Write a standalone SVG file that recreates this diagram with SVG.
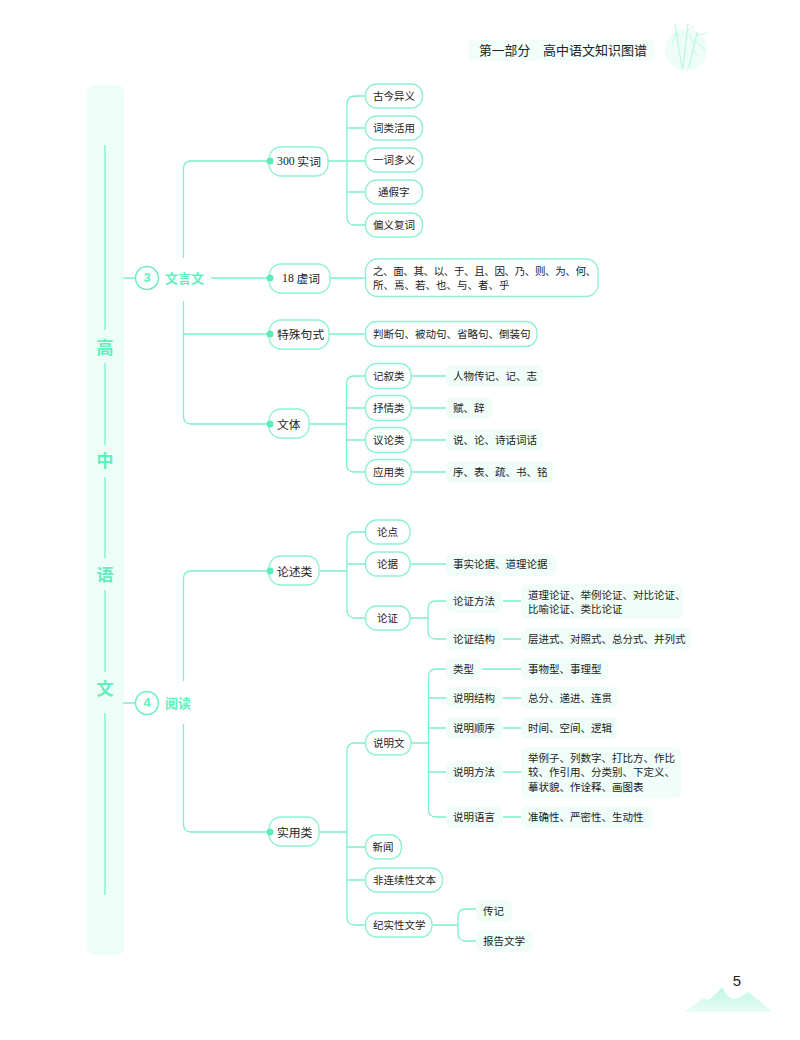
<svg xmlns="http://www.w3.org/2000/svg" width="800" height="1040" viewBox="0 0 800 1040">
<style>
text{font-family:"Noto Sans CJK SC","Noto Sans",sans-serif;fill:#222;dominant-baseline:central;transform:translateY(-.8px)}
.t{font-size:10.5px}
.m{font-size:11.8px}
.n{font-family:"Liberation Serif","Noto Sans CJK SC",serif}
.g{fill:#62eebd;font-weight:700}
.l{fill:none;stroke:#7df0cb;stroke-width:1.3}
.b{fill:#fff;stroke:#8ef0d2;stroke-width:1.3}
.f{fill:#f0fdf9}
.d{fill:#5eecb9}
.c{fill:#fff;stroke:#6eeec3;stroke-width:1.5}
.s{fill:none;stroke:#bdf6e2;stroke-linecap:round}
</style>
<defs>
<linearGradient id="mt" x1="0" y1="0" x2="0" y2="1"><stop offset="0" stop-color="#bdf6e2"/><stop offset="1" stop-color="#eafcf6"/></linearGradient>
</defs>
<rect width="800" height="1040" fill="#fff"/>
<g id="band">
<rect x="87" y="85" width="37" height="870" rx="7" fill="#edfdf7"/>
<path class="l" d="M105 145V330M105 363V445M105 477V558M105 590V672M105 713V895"/>
<text x="105" y="347" text-anchor="middle" class="g" font-size="17">高</text>
<text x="105" y="460" text-anchor="middle" class="g" font-size="17">中</text>
<text x="105" y="574" text-anchor="middle" class="g" font-size="17">语</text>
<text x="105" y="688" text-anchor="middle" class="g" font-size="17">文</text>
</g>
<g id="header">
<rect x="468" y="40" width="187" height="21" rx="5" fill="#f3fdfa"/>
<text x="479" y="50.500" font-size="12.800">第一部分</text>
<text x="543" y="50.500" font-size="13">高中语文知识图谱</text>
<circle cx="686" cy="50" r="21" fill="#eefdf8"/>
<g class="s" stroke-width="1.300"><path d="M675 25L682 68M688 24L683 68M697 33L689 67"/><path stroke-width=".9" d="M676 32L672 44M676 33L681 37M688 30L693 27M689 34L694 44M696 36L707 33M695 40L705 50M692 50L699 56"/></g>
</g>
<g id="connectors">
<path class="l" d="M123 278H135M211 278H269M123 703H135M183.500 258V169Q183.500 161 191 161H269M183.500 301V416Q183.500 424 191 424H269M183.500 334H269"/>
<path class="l" d="M183.500 681V579Q183.500 571 191 571H269M183.500 724V824Q183.500 832 191 832H269"/>
<path class="l" d="M328 161H347M365 96H355Q347 96 347 104V217Q347 225 355 225H365M347 128H365M347 161H365M347 192H365"/>
<path class="l" d="M330 278H365M329 334H365"/>
<path class="l" d="M309 424H346.500M365 376H354Q346.500 376 346.500 384V464Q346.500 472 354 472H365M346.500 408H365M346.500 440H365M411 376H446M411 408H446M411 440H446M411 472H446"/>
<path class="l" d="M319 571H347M365 532H355Q347 532 347 540V610Q347 618 355 618H365M347 564H365M410 564H446M410 618H428M447 601H436Q428 601 428 609V631Q428 639 436 639H447M503 601H521M503 639H521"/>
<path class="l" d="M319 832H347M365 743H355Q347 743 347 751V917Q347 925 355 925H365M347 847H365M347 880H365"/>
<path class="l" d="M411 743H428.500M446 669H436Q428.500 669 428.500 677V809Q428.500 817 436 817H446M428.500 698H446M428.500 728H446M428.500 772H446M482 669H521M503 698H521M503 728H521M503 772H521M503 817H521"/>
<path class="l" d="M432 925H458M476 909H466Q458 909 458 917V933Q458 941 466 941H476"/>
</g>
<g id="n3"><circle class="c" cx="147" cy="278" r="11.500"/><text x="147" y="278.500" text-anchor="middle" class="g" font-size="13" style="font-family:'Liberation Sans',sans-serif">3</text><text x="165" y="278.500" class="g" font-size="13">文言文</text></g>
<g id="n4"><circle class="c" cx="147" cy="703" r="11.500"/><text x="147" y="703.500" text-anchor="middle" class="g" font-size="13" style="font-family:'Liberation Sans',sans-serif">4</text><text x="165" y="703.500" class="g" font-size="13">阅读</text></g>
<g id="n300"><rect class="b" x="269" y="147" width="59" height="29" rx="12"/><circle class="d" cx="270" cy="161" r="3.500"/><text class="m" x="277" y="161.500"><tspan class="n">300</tspan> 实词</text></g>
<g id="n18"><rect class="b" x="269" y="264" width="61" height="29" rx="12"/><circle class="d" cx="270" cy="278" r="3.500"/><text class="m" x="282" y="278.500"><tspan class="n">18</tspan> 虚词</text></g>
<g id="nts"><rect class="b" x="269" y="320" width="60" height="29" rx="12"/><circle class="d" cx="270" cy="334" r="3.500"/><text class="m" x="277" y="334.500">特殊句式</text></g>
<g id="nwt"><rect class="b" x="269" y="409" width="40" height="29" rx="12"/><circle class="d" cx="270" cy="424" r="3.500"/><text class="m" x="277" y="424.500">文体</text></g>
<g id="nls"><rect class="b" x="269" y="556" width="50" height="29" rx="12"/><circle class="d" cx="270" cy="571" r="3.500"/><text class="m" x="277" y="571.500">论述类</text></g>
<g id="nsy"><rect class="b" x="269" y="817" width="50" height="29" rx="12"/><circle class="d" cx="270" cy="832" r="3.500"/><text class="m" x="277" y="832.500">实用类</text></g>
<g id="a1"><rect class="b" x="365.500" y="84" width="57" height="24" rx="11"/><text class="t" x="373" y="96.500">古今异义</text></g>
<g id="a2"><rect class="b" x="365.500" y="116" width="57" height="24" rx="11"/><text class="t" x="373" y="128.500">词类活用</text></g>
<g id="a3"><rect class="b" x="365.500" y="148" width="57" height="24" rx="11"/><text class="t" x="373" y="160.500">一词多义</text></g>
<g id="a4"><rect class="b" x="365.500" y="180" width="57" height="24" rx="11"/><text class="t" x="378" y="192.500">通假字</text></g>
<g id="a5"><rect class="b" x="365.500" y="213" width="57" height="24" rx="11"/><text class="t" x="373" y="225.500">偏义复词</text></g>
<g id="b1"><rect class="b" x="365.500" y="259" width="232.500" height="37.500" rx="12"/><text class="t" x="373" y="271" letter-spacing="-.38">之、面、其、以、于、且、因、乃、则、为、何、</text><text class="t" x="373" y="285">所、焉、若、也、与、者、乎</text></g>
<g id="b2"><rect class="b" x="365.500" y="321.500" width="171.500" height="25" rx="11"/><text class="t" x="373" y="334">判断句、被动句、省略句、倒装句</text></g>
<g id="c1"><rect class="b" x="365.500" y="363.500" width="45.500" height="25" rx="11"/><text class="t" x="373" y="376.500">记叙类</text></g>
<g id="c2"><rect class="b" x="365.500" y="395.500" width="45.500" height="25" rx="11"/><text class="t" x="373" y="408.500">抒情类</text></g>
<g id="c3"><rect class="b" x="365.500" y="427.500" width="45.500" height="25" rx="11"/><text class="t" x="373" y="440.500">议论类</text></g>
<g id="c4"><rect class="b" x="365.500" y="459.500" width="45.500" height="25" rx="11"/><text class="t" x="373" y="472.500">应用类</text></g>
<g id="d1"><rect class="f" x="446" y="365" width="97" height="22" rx="6"/><text class="t" x="453" y="376.500">人物传记、记、志</text></g>
<g id="d2"><rect class="f" x="446" y="397" width="46" height="22" rx="6"/><text class="t" x="453" y="408.500">赋、辞</text></g>
<g id="d3"><rect class="f" x="446" y="429" width="97" height="22" rx="6"/><text class="t" x="453" y="440.500">说、论、诗话词话</text></g>
<g id="d4"><rect class="f" x="446" y="461" width="108" height="22" rx="6"/><text class="t" x="453" y="472.500">序、表、疏、书、铭</text></g>
<g id="e1"><rect class="b" x="365.500" y="520" width="44.500" height="24" rx="11"/><text class="t" x="377" y="532.500">论点</text></g>
<g id="e2"><rect class="b" x="365.500" y="552" width="44.500" height="24" rx="11"/><text class="t" x="377" y="564.500">论据</text></g>
<g id="e3"><rect class="b" x="365.500" y="606" width="44.500" height="24" rx="11"/><text class="t" x="377" y="618.500">论证</text></g>
<g id="e4"><rect class="f" x="446" y="554" width="110" height="22" rx="6"/><text class="t" x="453" y="564.500">事实论据、道理论据</text></g>
<g id="e5"><rect class="f" x="446" y="591" width="56" height="22" rx="6"/><text class="t" x="453" y="601.500">论证方法</text></g>
<g id="e6"><rect class="f" x="446" y="628" width="56" height="22" rx="6"/><text class="t" x="453" y="639.500">论证结构</text></g>
<g id="e7"><rect class="f" x="521" y="584" width="162" height="35" rx="6"/><text class="t" x="528" y="595">道理论证、举例论证、对比论证、</text><text class="t" x="528" y="609">比喻论证、类比论证</text></g>
<g id="e8"><rect class="f" x="521" y="628" width="170" height="22" rx="6"/><text class="t" x="528" y="639">层进式、对照式、总分式、并列式</text></g>
<g id="f1"><rect class="b" x="365.500" y="731" width="45.500" height="24" rx="11"/><text class="t" x="373" y="743.500">说明文</text></g>
<g id="f2"><rect class="f" x="446" y="658" width="35" height="22" rx="6"/><text class="t" x="453" y="669">类型</text></g>
<g id="f3"><rect class="f" x="446" y="687" width="56" height="22" rx="6"/><text class="t" x="453" y="698.500">说明结构</text></g>
<g id="f4"><rect class="f" x="446" y="717" width="56" height="22" rx="6"/><text class="t" x="453" y="728.500">说明顺序</text></g>
<g id="f5"><rect class="f" x="446" y="761" width="56" height="22" rx="6"/><text class="t" x="453" y="772.500">说明方法</text></g>
<g id="f6"><rect class="f" x="446" y="806" width="56" height="22" rx="6"/><text class="t" x="453" y="817.500">说明语言</text></g>
<g id="g1"><rect class="f" x="521" y="658" width="87" height="22" rx="6"/><text class="t" x="528" y="669">事物型、事理型</text></g>
<g id="g2"><rect class="f" x="521" y="687" width="97" height="22" rx="6"/><text class="t" x="528" y="698.500">总分、递进、连贯</text></g>
<g id="g3"><rect class="f" x="521" y="717" width="97" height="22" rx="6"/><text class="t" x="528" y="728.500">时间、空间、逻辑</text></g>
<g id="g4"><rect class="f" x="521" y="747" width="160" height="51" rx="6"/><text class="t" x="528" y="758">举例子、列数字、打比方、作比</text><text class="t" x="528" y="772.500">较、作引用、分类别、下定义、</text><text class="t" x="528" y="787">摹状貌、作诠释、画图表</text></g>
<g id="g5"><rect class="f" x="521" y="806" width="132" height="22" rx="6"/><text class="t" x="528" y="817">准确性、严密性、生动性</text></g>
<g id="h1"><rect class="b" x="365.500" y="835" width="36" height="24" rx="11"/><text class="t" x="372.500" y="847.500">新闻</text></g>
<g id="h2"><rect class="b" x="365.500" y="868" width="77" height="24" rx="11"/><text class="t" x="373" y="880.500">非连续性文本</text></g>
<g id="h3"><rect class="b" x="365.500" y="913" width="66.500" height="24" rx="11"/><text class="t" x="373" y="925.500">纪实性文学</text></g>
<g id="h4"><rect class="f" x="476" y="900" width="36" height="22" rx="6"/><text class="t" x="483" y="911">传记</text></g>
<g id="h5"><rect class="f" x="476" y="930" width="57" height="22" rx="6"/><text class="t" x="483" y="941">报告文学</text></g>
<g id="footer">
<path d="M684 1012L700 1001Q703 998 705 999Q708 1001 711 998Q719 991 722 987Q726 995 731 998Q734 1000 738 998Q745 994 749 992Q753 996 773 1012Z" fill="url(#mt)"/>
<text x="737" y="981.500" text-anchor="middle" font-size="15" style="font-family:'Liberation Sans',sans-serif">5</text>
</g>
</svg>
